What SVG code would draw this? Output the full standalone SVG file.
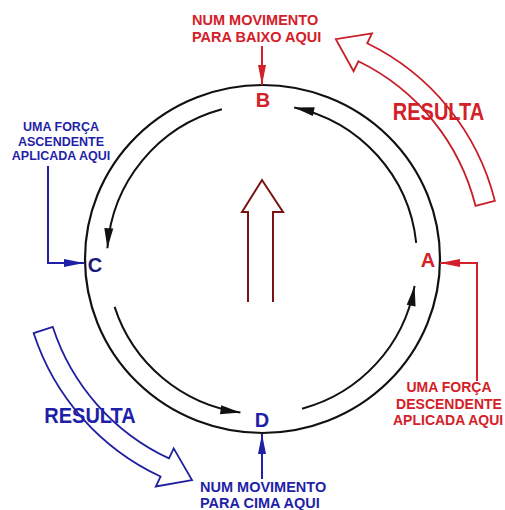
<svg xmlns="http://www.w3.org/2000/svg" width="505" height="510" viewBox="0 0 505 510">
<defs>
<style>
text{font-family:"Liberation Sans",Arial,sans-serif;font-weight:bold}
.red{fill:#d42028}
.blue{fill:#1f1fa8}
.navy{fill:#1a1a78}
.lbl{font-size:20px;text-anchor:middle}
.note{font-size:14px}
.circ{fill:none;stroke:#111;stroke-width:2.2}
.arc{fill:none;stroke:#111;stroke-width:2}
.rline{fill:none;stroke:#d42028;stroke-width:2}
.bline{fill:none;stroke:#1f1fa8;stroke-width:2}
</style>
<marker id="mk" markerUnits="userSpaceOnUse" markerWidth="21" markerHeight="10" refX="20" refY="4.5" orient="auto" overflow="visible">
<path d="M0,0 L20,4.5 L0,9 Z" fill="#111"/>
</marker>
<marker id="mr" markerUnits="userSpaceOnUse" markerWidth="21" markerHeight="10" refX="20" refY="4" orient="auto" overflow="visible">
<path d="M0,0 L20,4 L0,8 Z" fill="#d42028"/>
</marker>
<marker id="mb" markerUnits="userSpaceOnUse" markerWidth="21" markerHeight="10" refX="20" refY="4" orient="auto" overflow="visible">
<path d="M0,0 L20,4 L0,8 Z" fill="#1f1fa8"/>
</marker>
</defs>
<rect width="505" height="510" fill="#fff"/>

<g id="wheel">
<ellipse class="circ" cx="262.5" cy="259" rx="177.5" ry="174"/>
</g>

<g id="connectors">
<path class="arc" d="M416.2,242.8 A155,155 0 0 0 294.2,107.4" marker-end="url(#mk)"/>
<path class="arc" d="M221.9,109.3 A155,155 0 0 0 107.4,248.2" marker-end="url(#mk)"/>
<path class="arc" d="M114.6,306.9 A155,155 0 0 0 240.4,412.5" marker-end="url(#mk)"/>
<path class="arc" d="M302.1,408.7 A155,155 0 0 0 414.6,285.9" marker-end="url(#mk)"/>
<path class="rline" d="M262,46 L262,85" marker-end="url(#mr)"/>
<path class="rline" d="M477,381 L477,263 L440,263" marker-end="url(#mr)"/>
<path class="bline" d="M48,166 L48,263 L84,263" marker-end="url(#mb)"/>
<path class="bline" d="M262,479 L262,434" marker-end="url(#mb)"/>
</g>

<g id="center-arrow">
<path d="M248,302 L248,212 L242,212 L262,180 L283,212 L273,212 L273,302" fill="none" stroke="#7a1414" stroke-width="2" stroke-linejoin="miter"/>
</g>

<g id="result-red">
<path d="M494.9,200.9 A240,240 0 0 0 367.2,43.3 L372.0,33.4 L335.8,39.1 L353.6,71.2 L358.4,61.3 A220,220 0 0 1 475.5,205.8 Z" fill="#fff" stroke="#c81e28" stroke-width="1.8" stroke-linejoin="miter"/>
<text class="red" font-size="20" text-anchor="middle" transform="translate(438.5,120) scale(1,1.18)">RESULTA</text>
</g>

<g id="result-blue">
<path d="M33.7,333.2 A240,240 0 0 0 160.6,476.5 L155.9,486.5 L192.0,480.1 L173.7,448.4 L169.0,458.4 A220,220 0 0 1 52.8,327.0 Z" fill="#fff" stroke="#1f1fa0" stroke-width="1.8" stroke-linejoin="miter"/>
<text class="blue" font-size="20" text-anchor="middle" transform="translate(90,423) scale(1,1.1)">RESULTA</text>
</g>

<g id="node-A"><text class="red lbl" x="428" y="267">A</text></g>
<g id="node-B"><text class="red lbl" x="263" y="107">B</text></g>
<g id="node-C"><text class="navy lbl" x="95" y="272">C</text></g>
<g id="node-D"><text class="blue lbl" x="262" y="427">D</text></g>

<g id="note-B">
<text class="red" font-size="14.5" x="192" y="25">NUM  MOVIMENTO</text>
<text class="red" font-size="14.5" x="192" y="42">PARA BAIXO AQUI</text>
</g>

<g id="note-C">
<text class="blue" font-size="12.5" text-anchor="middle" x="61" y="131">UMA FORÇA</text>
<text class="blue" font-size="12.5" text-anchor="middle" x="61" y="145.5">ASCENDENTE</text>
<text class="blue" font-size="12.5" text-anchor="middle" x="61" y="160">APLICADA AQUI</text>
</g>

<g id="note-A">
<text class="red note" text-anchor="middle" x="449" y="392">UMA FORÇA</text>
<text class="red note" text-anchor="middle" x="449" y="408.5">DESCENDENTE</text>
<text class="red note" x="393" y="425">APLICADA AQUI</text>
</g>

<g id="note-D">
<text class="blue" font-size="14.5" x="200" y="492">NUM MOVIMENTO</text>
<text class="blue" font-size="14.5" x="200" y="508">PARA CIMA AQUI</text>
</g>
</svg>
